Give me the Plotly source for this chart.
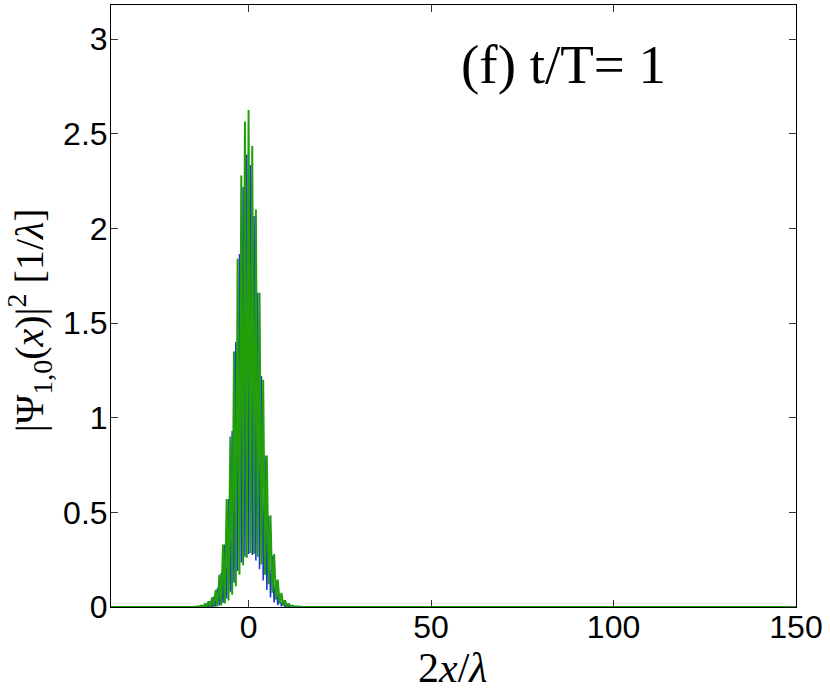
import plotly.graph_objects as go

# ---- data ----
# lattice sites (2x/lambda) where the green curve peaks
green_peak_x = list(range(-14, 15))
green_peak_y = [0.004, 0.008, 0.015, 0.03, 0.05, 0.09, 0.17, 0.33, 0.57, 0.90,
                1.35, 1.84, 2.28, 2.565, 2.625, 2.435, 2.10, 1.66, 1.20, 0.80,
                0.485, 0.28, 0.145, 0.075, 0.035, 0.018, 0.008, 0.004, 0.002]
# minima of the green curve (between sites)
green_trough_x = [v + 0.5 for v in range(-15, 15)]
green_trough_y = [0, 0, 0, 0, 0, 0.001, 0.003, 0.008, 0.018, 0.035,
                  0.065, 0.11, 0.17, 0.22, 0.26, 0.285, 0.28, 0.265, 0.225, 0.17,
                  0.12, 0.075, 0.04, 0.018, 0.007, 0.002, 0, 0, 0, 0]
# blue curve peaks sit between the green ones
blue_peak_x = [v + 0.5 for v in range(-15, 15)]
blue_peak_y = [0.002, 0.004, 0.008, 0.015, 0.03, 0.055, 0.1, 0.18, 0.33, 0.57,
               0.93, 1.40, 1.865, 2.218, 2.39, 2.335, 2.066, 1.66, 1.22, 0.80,
               0.48, 0.27, 0.14, 0.07, 0.035, 0.016, 0.008, 0.004, 0.002, 0.001]
blue_trough_x = list(range(-14, 15))
blue_trough_y = [0, 0, 0, 0, 0, 0.003, 0.009, 0.022, 0.045, 0.08,
                 0.13, 0.19, 0.235, 0.265, 0.28, 0.275, 0.245, 0.2, 0.14, 0.09,
                 0.05, 0.024, 0.01, 0.003, 0, 0, 0, 0, 0]
domain_x = [-37.7, 150]     # extent of the computed grid
x_ticks = [0, 50, 100, 150]
y_ticks = [0, 0.5, 1, 1.5, 2, 2.5, 3]
y_tick_text = ["0", "0.5", "1", "1.5", "2", "2.5", "3"]


def build(px, py, tx, ty):
    pts = sorted(list(zip(px, py)) + list(zip(tx, ty)))
    xs = [domain_x[0]] + [p[0] for p in pts] + [domain_x[1]]
    ys = [0] + [p[1] for p in pts] + [0]
    return xs, ys


bx, by = build(blue_peak_x, blue_peak_y, blue_trough_x, blue_trough_y)
gx, gy = build(green_peak_x, green_peak_y, green_trough_x, green_trough_y)

fig = go.Figure()
fig.add_trace(go.Scatter(x=bx, y=by, mode="lines",
                         line=dict(color="rgb(30,50,230)", width=1.5),
                         showlegend=False))
fig.add_trace(go.Scatter(x=gx, y=gy, mode="lines",
                         line=dict(color="rgb(34,160,10)", width=2),
                         showlegend=False))

L, R, T, B = 110.7, 34, 5.3, 83.3
W, H = 830, 690

axis_common = dict(showgrid=False, zeroline=False, showline=True,
                   linecolor="black", linewidth=1, mirror="allticks",
                   ticks="inside", ticklen=7, tickwidth=1, tickcolor="#333",
                   tickfont=dict(family="Liberation Sans, Arial", size=32, color="black"))

fig.update_xaxes(range=[domain_x[0], domain_x[1]], tickvals=x_ticks,
                 ticklabelstandoff=-8, **axis_common)
fig.update_yaxes(range=[0, 3.18], tickvals=y_ticks, ticktext=y_tick_text,
                 ticklabelstandoff=-4, **axis_common)

pw, ph = W - L - R, H - T - B
fig.add_annotation(text="(f) t/T= 1", xref="paper", yref="paper",
                   x=(563 - L) / pw, y=(H - B - 65) / ph,
                   xanchor="center", yanchor="middle", showarrow=False,
                   font=dict(family="Liberation Serif, Times New Roman", size=55, color="black"))
fig.add_annotation(text="2<i>x</i>/<i>λ</i>", xref="paper", yref="paper",
                   x=(453 - L) / pw, y=(H - B - 668) / ph,
                   xanchor="center", yanchor="middle", showarrow=False,
                   font=dict(family="Liberation Serif, Times New Roman", size=42, color="black"))
fig.add_annotation(text="|Ψ<sub>1,0</sub>(<i>x</i>)|<sup>2</sup> [1/<i>λ</i>]",
                   xref="paper", yref="paper",
                   x=(29 - L) / pw, y=(H - B - 320) / ph,
                   xanchor="center", yanchor="middle", textangle=-90, showarrow=False,
                   font=dict(family="Liberation Serif, Times New Roman", size=40, color="black"))

fig.update_layout(width=W, height=H, margin=dict(l=L, r=R, t=T, b=B, autoexpand=False),
                  paper_bgcolor="white", plot_bgcolor="white")

fig.write_html("out.html", config={"displayModeBar": False},
               post_script="document.body.style.margin='0px';")
